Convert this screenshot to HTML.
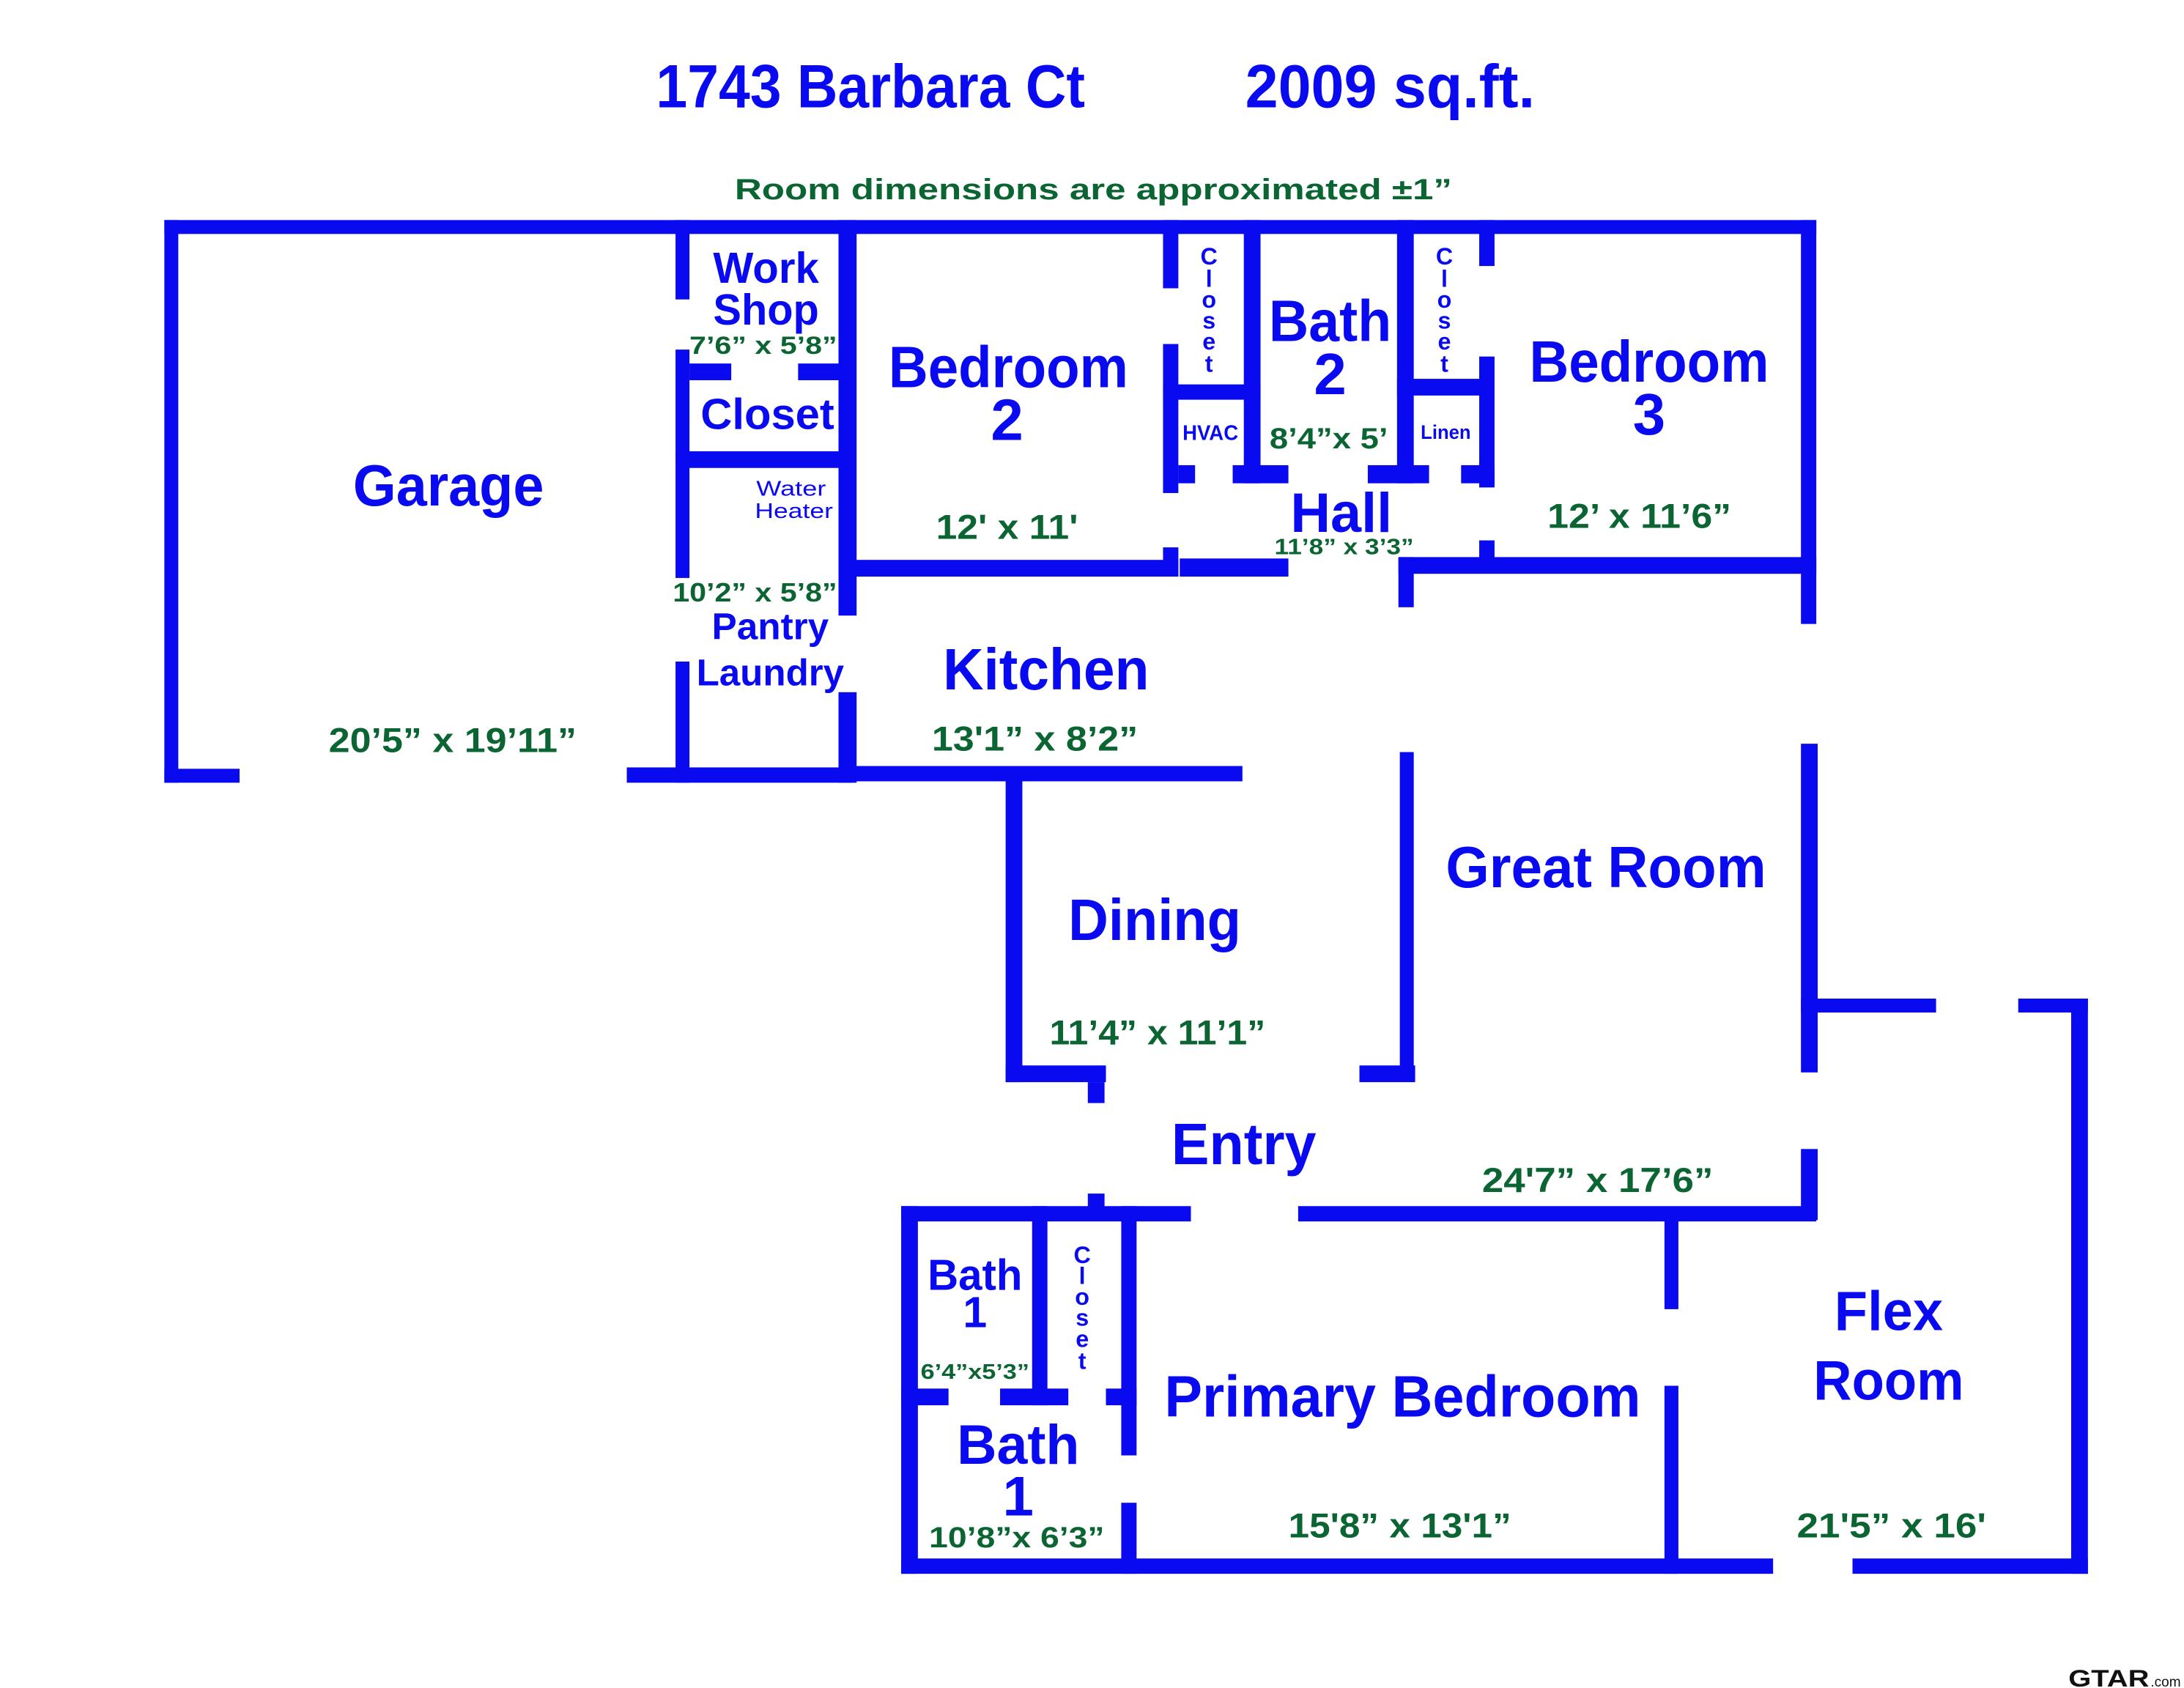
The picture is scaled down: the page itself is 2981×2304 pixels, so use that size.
<!DOCTYPE html>
<html><head><meta charset="utf-8"><style>
html,body{margin:0;padding:0;background:#fff;}
svg{display:block}
.b{fill:#0a0af0;font-family:"Liberation Sans",Arial,sans-serif;font-weight:bold;}
.g{fill:#0b6532;font-family:"Liberation Sans",Arial,sans-serif;font-weight:bold;}
.n{fill:#0a0af0;font-family:"Liberation Sans",Arial,sans-serif;}
</style></head><body>
<svg width="2981" height="2304" viewBox="0 0 1568 1212" preserveAspectRatio="none" xmlns="http://www.w3.org/2000/svg">
<rect width="1568" height="1212" fill="#fff"/>
<g fill="#0a0af0">
<!-- top & garage -->
<rect x="118" y="158" width="1186" height="10"/>
<rect x="118" y="158" width="10" height="404"/>
<rect x="118" y="552" width="54" height="10"/>
<rect x="450" y="551" width="162" height="11"/>
<rect x="612" y="550" width="280" height="11"/>
<!-- workshop column -->
<rect x="485" y="158" width="10" height="57"/>
<rect x="485" y="251" width="10" height="164"/>
<rect x="485" y="475" width="10" height="87"/>
<rect x="495" y="261" width="30" height="12"/>
<rect x="573" y="261" width="39" height="12"/>
<rect x="485" y="324" width="127" height="12"/>
<rect x="602" y="158" width="13" height="284"/>
<rect x="602" y="497" width="13" height="65"/>
<!-- bedroom 2 -->
<rect x="612" y="402" width="234" height="12"/>
<rect x="847" y="401" width="78" height="13"/>
<rect x="835" y="158" width="11" height="49"/>
<rect x="835" y="247" width="11" height="107"/>
<rect x="835" y="393" width="11" height="21"/>
<rect x="893" y="158" width="12" height="189"/>
<rect x="835" y="276" width="70" height="11"/>
<rect x="846" y="334" width="12" height="13"/>
<rect x="885" y="334" width="40" height="13"/>
<!-- bath2 right / linen -->
<rect x="1003" y="158" width="12" height="189"/>
<rect x="982" y="334" width="44" height="13"/>
<rect x="1003" y="272" width="68" height="12"/>
<rect x="1062" y="158" width="11" height="33"/>
<rect x="1062" y="256" width="11" height="94"/>
<rect x="1049" y="334" width="24" height="13"/>
<rect x="1062" y="388" width="11" height="13"/>
<!-- bedroom 3 -->
<rect x="1004" y="400" width="300" height="12"/>
<rect x="1004" y="400" width="11" height="36"/>
<rect x="1293" y="158" width="11" height="290"/>
<!-- great room -->
<rect x="1293" y="534" width="12" height="236"/>
<rect x="1293" y="825" width="12" height="51"/>
<rect x="1005" y="540" width="10" height="236"/>
<rect x="976" y="765" width="40" height="12"/>
<!-- dining -->
<rect x="722" y="556" width="12" height="221"/>
<rect x="722" y="765" width="72" height="12"/>
<rect x="781" y="777" width="12" height="15"/>
<rect x="781" y="857" width="12" height="10"/>
<!-- entry wall -->
<rect x="647" y="866" width="208" height="11"/>
<rect x="932" y="866" width="372" height="11"/>
<!-- flex -->
<rect x="1293" y="717" width="97" height="10"/>
<rect x="1449" y="717" width="50" height="10"/>
<rect x="1487" y="717" width="12" height="413"/>
<rect x="647" y="1119" width="626" height="11"/>
<rect x="1330" y="1119" width="169" height="11"/>
<rect x="1195" y="876" width="10" height="64"/>
<rect x="1195" y="995" width="10" height="135"/>
<!-- primary bath -->
<rect x="647" y="866" width="12" height="264"/>
<rect x="741" y="866" width="11" height="143"/>
<rect x="647" y="997" width="34" height="12"/>
<rect x="718" y="997" width="49" height="12"/>
<rect x="794" y="997" width="22" height="12"/>
<rect x="805" y="866" width="11" height="179"/>
<rect x="805" y="1079" width="11" height="51"/>
</g>

<!-- titles -->
<text class="b" x="471" y="77" font-size="44" textLength="308" lengthAdjust="spacingAndGlyphs">1743 Barbara Ct</text>
<text class="b" x="894" y="77" font-size="44" textLength="208" lengthAdjust="spacingAndGlyphs">2009 sq.ft.</text>
<text class="g" x="785" y="143" font-size="21" text-anchor="middle" textLength="515" lengthAdjust="spacingAndGlyphs">Room dimensions are approximated ±1”</text>

<g text-anchor="middle">
<text class="b" x="322" y="363" font-size="42" textLength="137" lengthAdjust="spacingAndGlyphs">Garage</text>
<text class="g" x="325" y="540" font-size="25" textLength="178" lengthAdjust="spacingAndGlyphs">20’5” x 19’11”</text>

<text class="b" x="550" y="203" font-size="31" textLength="76" lengthAdjust="spacingAndGlyphs">Work</text>
<text class="b" x="550" y="233" font-size="31" textLength="76" lengthAdjust="spacingAndGlyphs">Shop</text>
<text class="g" x="548" y="254" font-size="18" textLength="106" lengthAdjust="spacingAndGlyphs">7’6” x 5’8”</text>
<text class="b" x="551" y="308" font-size="31" textLength="96" lengthAdjust="spacingAndGlyphs">Closet</text>
<text class="n" x="568" y="356" font-size="15" textLength="50" lengthAdjust="spacingAndGlyphs">Water</text>
<text class="n" x="570" y="372" font-size="15" textLength="56" lengthAdjust="spacingAndGlyphs">Heater</text>
<text class="g" x="542" y="432" font-size="19" textLength="118" lengthAdjust="spacingAndGlyphs">10’2” x 5’8”</text>
<text class="b" x="553" y="459" font-size="27" textLength="84" lengthAdjust="spacingAndGlyphs">Pantry</text>
<text class="b" x="553" y="492" font-size="27" textLength="106" lengthAdjust="spacingAndGlyphs">Laundry</text>

<text class="b" x="724" y="278" font-size="42" textLength="172" lengthAdjust="spacingAndGlyphs">Bedroom</text>
<text class="b" x="723" y="316" font-size="42">2</text>
<text class="g" x="723" y="387" font-size="25" textLength="102" lengthAdjust="spacingAndGlyphs">12' x 11'</text>

<text class="b" x="955" y="245" font-size="42" textLength="88" lengthAdjust="spacingAndGlyphs">Bath</text>
<text class="b" x="955" y="283" font-size="42">2</text>
<text class="n" x="869" y="316" font-size="15" textLength="40" lengthAdjust="spacingAndGlyphs" font-weight="bold">HVAC</text>
<text class="g" x="954" y="322" font-size="21" textLength="85" lengthAdjust="spacingAndGlyphs">8’4”x 5’</text>
<text class="n" x="1038" y="315" font-size="14" textLength="36" lengthAdjust="spacingAndGlyphs" font-weight="bold">Linen</text>

<text class="b" x="1184" y="274" font-size="42" textLength="172" lengthAdjust="spacingAndGlyphs">Bedroom</text>
<text class="b" x="1184" y="312" font-size="42">3</text>
<text class="g" x="1177" y="379" font-size="25" textLength="132" lengthAdjust="spacingAndGlyphs">12’ x 11’6”</text>

<text class="b" x="963" y="382" font-size="40" textLength="73" lengthAdjust="spacingAndGlyphs">Hall</text>
<text class="g" x="965" y="398" font-size="16" textLength="100" lengthAdjust="spacingAndGlyphs">11’8” x 3’3”</text>

<text class="b" x="751" y="495" font-size="42" textLength="148" lengthAdjust="spacingAndGlyphs">Kitchen</text>
<text class="g" x="743" y="539" font-size="25" textLength="148" lengthAdjust="spacingAndGlyphs">13'1” x 8’2”</text>

<text class="b" x="1153" y="637" font-size="42" textLength="230" lengthAdjust="spacingAndGlyphs">Great Room</text>
<text class="b" x="829" y="675" font-size="42" textLength="124" lengthAdjust="spacingAndGlyphs">Dining</text>
<text class="g" x="831" y="750" font-size="25" textLength="155" lengthAdjust="spacingAndGlyphs">11’4” x 11’1”</text>
<text class="b" x="893" y="836" font-size="42" textLength="104" lengthAdjust="spacingAndGlyphs">Entry</text>
<text class="g" x="1147" y="856" font-size="25" textLength="166" lengthAdjust="spacingAndGlyphs">24'7” x 17’6”</text>

<text class="b" x="700" y="926" font-size="31" textLength="68" lengthAdjust="spacingAndGlyphs">Bath</text>
<text class="b" x="700" y="953" font-size="31">1</text>
<text class="g" x="700" y="990" font-size="15" textLength="78" lengthAdjust="spacingAndGlyphs">6’4”x5’3”</text>
<text class="b" x="731" y="1051" font-size="40" textLength="88" lengthAdjust="spacingAndGlyphs">Bath</text>
<text class="b" x="731" y="1088" font-size="40">1</text>
<text class="g" x="730" y="1111" font-size="21" textLength="126" lengthAdjust="spacingAndGlyphs">10’8”x 6’3”</text>

<text class="b" x="1007" y="1017" font-size="42" textLength="342" lengthAdjust="spacingAndGlyphs">Primary Bedroom</text>
<text class="g" x="1005" y="1104" font-size="25" textLength="160" lengthAdjust="spacingAndGlyphs">15'8” x 13'1”</text>
<text class="b" x="1356" y="955" font-size="40" textLength="78" lengthAdjust="spacingAndGlyphs">Flex</text>
<text class="b" x="1356" y="1005" font-size="40" textLength="108" lengthAdjust="spacingAndGlyphs">Room</text>
<text class="g" x="1358" y="1104" font-size="25" textLength="136" lengthAdjust="spacingAndGlyphs">21'5” x 16'</text>

<!-- vertical closets -->
<g class="b" font-size="17">
<text x="868" y="190">C</text><text x="868" y="206">l</text><text x="868" y="221">o</text><text x="868" y="236">s</text><text x="868" y="251">e</text><text x="868" y="267">t</text>
<text x="1037" y="190">C</text><text x="1037" y="206">l</text><text x="1037" y="221">o</text><text x="1037" y="236">s</text><text x="1037" y="251">e</text><text x="1037" y="267">t</text>
<text x="777" y="907">C</text><text x="777" y="922">l</text><text x="777" y="937">o</text><text x="777" y="952">s</text><text x="777" y="967">e</text><text x="777" y="983">t</text>
</g>
</g>
<text x="1485" y="1211" font-family="Liberation Sans, Arial, sans-serif" font-weight="bold" font-size="17" fill="#111" textLength="58" lengthAdjust="spacingAndGlyphs">GTAR</text>
<text x="1544" y="1211" font-family="Liberation Sans, Arial, sans-serif" font-size="10" fill="#111">.com</text>
</svg>
</body></html>
